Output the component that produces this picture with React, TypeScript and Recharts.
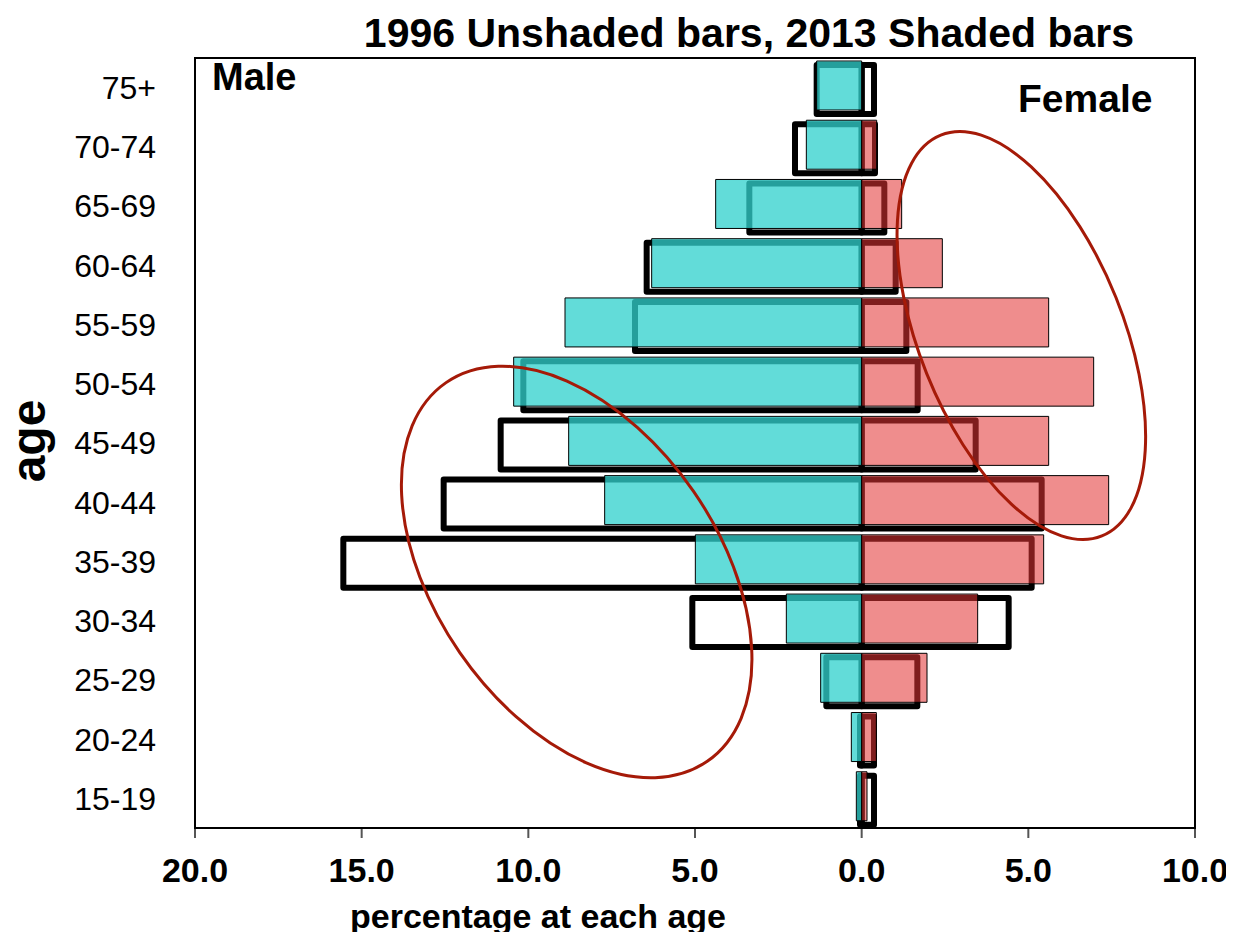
import React from "react";
import { BarChart, Bar, XAxis, YAxis, ReferenceDot } from "recharts";

const AGES = ["75+", "70-74", "65-69", "60-64", "55-59", "50-54", "45-49", "40-44", "35-39", "30-34", "25-29", "20-24", "15-19"];
// 1996 (outline bars)
const MALE_1996 = [1.35, 2.0, 3.37, 6.45, 6.8, 10.15, 10.83, 12.54, 15.55, 5.08, 1.06, 0.05, 0.05];
const FEMALE_1996 = [0.37, 0.4, 0.68, 1.02, 1.34, 1.68, 3.42, 5.4, 5.1, 4.41, 1.67, 0.37, 0.37];
// 2013 (shaded bars)
const MALE_2013 = [1.35, 1.66, 4.38, 6.3, 8.9, 10.44, 8.79, 7.71, 4.99, 2.26, 1.23, 0.31, 0.16];
const FEMALE_2013 = [0, 0.45, 1.2, 2.42, 5.61, 6.96, 5.61, 7.41, 5.46, 3.48, 1.96, 0.44, 0.16];
const X_TICKS = [-20, -15, -10, -5, 0, 5, 10];

const data = AGES.map((age, i) => ({
  age,
  m96: -MALE_1996[i],
  f96: FEMALE_1996[i],
  m13: -MALE_2013[i],
  f13: FEMALE_2013[i],
}));

// red rings drawn round groups of bars
const RINGS = [
  { x: -8.55, age: "35-39", dy: 10.5, rx: 142, ry: 230, angle: -34.6 },
  { x: 4.79, age: "55-59", dy: 11, rx: 102, ry: 216, angle: -21.9 },
];

const FONT = "'Liberation Sans', Arial, sans-serif";
const W = 1226;
const H = 924;
const PLOT = { left: 187, top: 50, right: 39 };

function ring(r: (typeof RINGS)[number]) {
  return (p: any) => {
    const cy = p.cy + r.dy;
    return (
      <ellipse
        cx={p.cx}
        cy={cy}
        rx={r.rx}
        ry={r.ry}
        transform={`rotate(${r.angle} ${p.cx} ${cy})`}
        fill="none"
        stroke="#A51A08"
        strokeWidth={3}
      />
    );
  };
}

export default function App() {
  return (
    <div style={{ position: "relative", width: W, height: H }}>
      <BarChart
        width={W}
        height={H}
        data={data}
        layout="vertical"
        stackOffset="sign"
        barSize={49}
        barGap={-53}
        margin={{ top: PLOT.top, right: PLOT.right, bottom: 0, left: 0 }}
      >
        <XAxis
          type="number"
          domain={[-20, 10]}
          ticks={X_TICKS}
          interval={0}
          allowDataOverflow
          tickFormatter={(v: number) => Math.abs(v).toFixed(1)}
          tick={{ fontFamily: FONT, fontSize: 34, fontWeight: 700, fill: "#000" }}
          tickSize={10}
          tickMargin={20}
          tickLine={{ stroke: "#555", strokeWidth: 2 }}
          axisLine={{ stroke: "#000", strokeWidth: 2 }}
          height={104}
        />
        <YAxis
          type="category"
          dataKey="age"
          interval={0}
          width={PLOT.left}
          tickSize={0}
          tickMargin={39}
          tickLine={false}
          tick={{ fontFamily: FONT, fontSize: 32, fill: "#000" }}
          axisLine={{ stroke: "#000", strokeWidth: 2 }}
        />
        <Bar dataKey="m96" stackId="y1996" barSize={49} fill="none" stroke="#000" strokeWidth={6} strokeLinejoin="round" isAnimationActive={false} />
        <Bar dataKey="f96" stackId="y1996" barSize={49} fill="none" stroke="#000" strokeWidth={6} strokeLinejoin="round" isAnimationActive={false} />
        <Bar dataKey="m13" stackId="y2013" barSize={49} fill="#31D1CD" fillOpacity={0.76} stroke="#000" strokeWidth={1} isAnimationActive={false} />
        <Bar dataKey="f13" stackId="y2013" barSize={49} fill="#E33434" fillOpacity={0.56} stroke="#000" strokeWidth={1} isAnimationActive={false} />
        {RINGS.map((r) => (
          <ReferenceDot key={r.age} x={r.x} y={r.age} r={10} shape={ring(r)} ifOverflow="visible" />
        ))}
      </BarChart>
      <svg
        width={W}
        height={H}
        style={{ position: "absolute", left: 0, top: 0, overflow: "visible", pointerEvents: "none" }}
        fontFamily={FONT}
        fontWeight={700}
      >
        <rect x={PLOT.left} y={PLOT.top} width={1000} height={770} fill="none" stroke="#000" strokeWidth={2} />
        <text x={741} y={39} fontSize={41} textAnchor="middle">1996 Unshaded bars, 2013 Shaded bars</text>
        <text x={204} y={82} fontSize={38}>Male</text>
        <text x={1010} y={104} fontSize={39}>Female</text>
        <text x={37} y={433} fontSize={48} textAnchor="middle" transform="rotate(-90 37 433)">age</text>
        <text x={530} y={920} fontSize={34} textAnchor="middle">percentage at each age</text>
      </svg>
    </div>
  );
}
